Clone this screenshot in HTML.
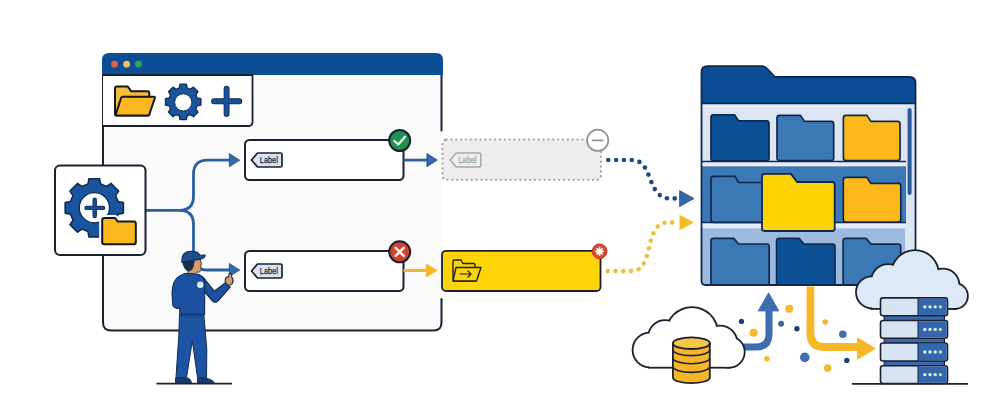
<!DOCTYPE html>
<html><head><meta charset="utf-8"><style>
html,body{margin:0;padding:0;background:#ffffff;}
body{width:986px;height:407px;overflow:hidden;font-family:"Liberation Sans",sans-serif;}
svg{display:block;}
</style></head><body>
<svg width="986" height="407" viewBox="0 0 986 407">
<rect x="103" y="54" width="338.5" height="276.5" rx="8" fill="#fafafa"/>
<path d="M441.5,75 V130.5" fill="none" stroke="#1b2030" stroke-width="2" stroke-linecap="round"/>
<path d="M441.5,298.2 V322.5 Q441.5,330.5 433.5,330.5 L111,330.5 Q103,330.5 103,322.5 L103,75" fill="none" stroke="#1b2030" stroke-width="2"/>
<path d="M102,75 L102,60 Q102,53 109,53 L436,53 Q443,53 443,60 L443,75 Z" fill="#0b4e96"/>
<circle cx="114.5" cy="64.2" r="3.4" fill="#e0604a"/><circle cx="126.6" cy="64.2" r="3.4" fill="#f0c350"/><circle cx="138.4" cy="64.2" r="3.4" fill="#36a35c"/>
<path d="M103,75 L252.5,75 L252.5,122 Q252.5,126 248.5,126 L103,126" fill="#ffffff" stroke="#1b2030" stroke-width="1.8"/>
<path d="M115,113.4 L115,88.4 Q115,86.4 117,86.4 L127.7,86.4 L131.1,91.30000000000001 L147.3,91.30000000000001 Q149.3,91.30000000000001 149.3,93.30000000000001 L149.3,113.4 Q149.3,115.4 147.3,115.4 L117,115.4 Q115,115.4 115,113.4Z" fill="#f3bd3a" stroke="#15171f" stroke-width="2" stroke-linejoin="round"/>
<path d="M122.5,96.7 L153.8,96.7 Q155.3,96.7 154.8,98.2 L149.2,114.8 Q148.9,115.5 148,115.5 L115.4,115.5 L121.2,97.6 Q121.5,96.7 122.5,96.7 Z" fill="#fab81e" stroke="#15171f" stroke-width="2" stroke-linejoin="round"/>
<path d="M179.26,87.94L179.97,84.19L186.43,84.19L187.14,87.94L190.29,89.25L193.43,87.09L198.01,91.67L195.85,94.81L197.16,97.96L200.91,98.67L200.91,105.13L197.16,105.84L195.85,108.99L198.01,112.13L193.43,116.71L190.29,114.55L187.14,115.86L186.43,119.61L179.97,119.61L179.26,115.86L176.11,114.55L172.97,116.71L168.39,112.13L170.55,108.99L169.24,105.84L165.49,105.13L165.49,98.67L169.24,97.96L170.55,94.81L168.39,91.67L172.97,87.09L176.11,89.25Z" fill="#1a549c" stroke="#0f2b57" stroke-width="1.3" stroke-linejoin="round"/>
<circle cx="183.25" cy="102.4" r="8.6" fill="#ffffff" stroke="#12315e" stroke-width="1"/>
<path d="M214,101.3 H239.3 M226.6,88.7 V113.9" stroke="#0f2b57" stroke-width="5.9" stroke-linecap="round"/>
<path d="M214,101.3 H239.3 M226.6,88.7 V113.9" stroke="#1a529a" stroke-width="4.3" stroke-linecap="round"/>
<path d="M146,210.3 H179.5 Q193.5,210.3 193.5,196.3 V174.3 Q193.5,160.2 207.5,160.2 H230" fill="none" stroke="#2c5f9e" stroke-width="2.8"/>
<path d="M179.5,210.3 Q193.5,210.3 193.5,224.3 V256 Q193.5,270 207.5,270 H230" fill="none" stroke="#2c5f9e" stroke-width="2.8"/>
<path d="M229.3,153.6 L239.8,160.2 L229.3,166.8 Z" fill="#3468ad" stroke="#21508c" stroke-width="0.8" stroke-linejoin="round"/>
<path d="M229.3,263.4 L239.8,270 L229.3,276.6 Z" fill="#3468ad" stroke="#21508c" stroke-width="0.8" stroke-linejoin="round"/>
<rect x="55" y="165.5" width="90.5" height="89.5" rx="5" fill="#ffffff" stroke="#1b2030" stroke-width="2"/>
<path d="M88.00,184.02L88.98,178.68L99.62,178.68L100.60,184.02L106.66,186.53L111.13,183.45L118.65,190.97L115.57,195.44L118.08,201.50L123.42,202.48L123.42,213.12L118.08,214.10L115.57,220.16L118.65,224.63L111.13,232.15L106.66,229.07L100.60,231.58L99.62,236.92L88.98,236.92L88.00,231.58L81.94,229.07L77.47,232.15L69.95,224.63L73.03,220.16L70.52,214.10L65.18,213.12L65.18,202.48L70.52,201.50L73.03,195.44L69.95,190.97L77.47,183.45L81.94,186.53Z" fill="#1a549c" stroke="#0f2b57" stroke-width="1.6" stroke-linejoin="round"/>
<circle cx="94.4" cy="207.7" r="15.1" fill="#ffffff" stroke="#0f2b57" stroke-width="1.3"/>
<path d="M86.5,207.9 H103 M94.7,199.8 V216" stroke="#0f2b57" stroke-width="4.4" stroke-linecap="round"/>
<path d="M86.5,207.9 H103 M94.7,199.8 V216" stroke="#174a8e" stroke-width="3" stroke-linecap="round"/>
<path d="M102.2,242.2 L102.2,220 Q102.2,218 104.2,218 L115.10000000000001,218 L117.80000000000001,221.6 L133.8,221.6 Q135.8,221.6 135.8,223.6 L135.8,242.2 Q135.8,244.2 133.8,244.2 L104.2,244.2 Q102.2,244.2 102.2,242.2Z" fill="#fab81e" stroke="#ffffff" stroke-width="6" stroke-linejoin="round"/>
<path d="M102.2,242.2 L102.2,220 Q102.2,218 104.2,218 L115.10000000000001,218 L117.80000000000001,221.6 L133.8,221.6 Q135.8,221.6 135.8,223.6 L135.8,242.2 Q135.8,244.2 133.8,244.2 L104.2,244.2 Q102.2,244.2 102.2,242.2Z" fill="#fab81e" stroke="#15171f" stroke-width="2" stroke-linejoin="round"/>
<rect x="245" y="140" width="158.5" height="40" rx="4.5" fill="#ffffff" stroke="#1b2030" stroke-width="2"/>
<path d="M251.5,160.0 L257.5,153 L280.5,153 Q282.0,153 282.0,154.5 L282.0,165.5 Q282.0,167 280.5,167 L257.5,167 Z" fill="#d5e3f5" stroke="#1b2030" stroke-width="1.7" stroke-linejoin="round"/><text x="259.8" y="162.9" font-family="Liberation Sans, sans-serif" font-size="8.3" textLength="18" lengthAdjust="spacingAndGlyphs" fill="#1b2a45" stroke="#1b2a45" stroke-width="0.25">Label</text>
<rect x="245" y="251" width="158.5" height="40" rx="4.5" fill="#ffffff" stroke="#1b2030" stroke-width="2"/>
<path d="M251.5,271.0 L257.5,264 L280.5,264 Q282.0,264 282.0,265.5 L282.0,276.5 Q282.0,278 280.5,278 L257.5,278 Z" fill="#d5e3f5" stroke="#1b2030" stroke-width="1.7" stroke-linejoin="round"/><text x="259.8" y="273.9" font-family="Liberation Sans, sans-serif" font-size="8.3" textLength="18" lengthAdjust="spacingAndGlyphs" fill="#1b2a45" stroke="#1b2a45" stroke-width="0.25">Label</text>
<circle cx="399.7" cy="140.5" r="10.5" fill="#1f9150" stroke="#1b2030" stroke-width="2"/>
<path d="M394.5,141 L398.2,144.5 L405,136.8" fill="none" stroke="#e2f8ea" stroke-width="2.4" stroke-linecap="round" stroke-linejoin="round"/>
<circle cx="399.7" cy="251.8" r="10.5" fill="#cc4430" stroke="#1b2030" stroke-width="2"/>
<path d="M395.7,247.8 L403.7,255.8 M403.7,247.8 L395.7,255.8" fill="none" stroke="#fdeee6" stroke-width="2.6" stroke-linecap="round"/>
<path d="M403.5,160.1 H428" stroke="#2c5f9e" stroke-width="2.8"/>
<path d="M426.9,153.5 L437.3,160.1 L426.9,166.7 Z" fill="#3468ad" stroke="#21508c" stroke-width="0.8" stroke-linejoin="round"/>
<path d="M403.5,270.5 H428" stroke="#f2b828" stroke-width="3"/>
<path d="M426.2,263.9 L437.3,270.5 L426.2,277.1 Z" fill="#f5b81c" stroke="#f5b81c" stroke-width="0.6" stroke-linejoin="round"/>
<rect x="442.5" y="139.6" width="158.5" height="40.2" rx="4" fill="#ededed" stroke="#a3a3a3" stroke-width="2.2" stroke-dasharray="0.1 4.75" stroke-linecap="round"/>
<path d="M450.2,160.0 L456.2,153 L479.3,153 Q480.8,153 480.8,154.5 L480.8,165.5 Q480.8,167 479.3,167 L456.2,167 Z" fill="#ededed" stroke="#a8a8a8" stroke-width="1.5" stroke-linejoin="round"/><text x="458.5" y="162.9" font-family="Liberation Sans, sans-serif" font-size="8.3" textLength="18" lengthAdjust="spacingAndGlyphs" fill="#a3a3a3" stroke="#a3a3a3" stroke-width="0.25">Label</text>
<circle cx="597.7" cy="140.3" r="10.6" fill="#ffffff" stroke="#939393" stroke-width="1.7"/>
<path d="M592.6,140.3 H602.8" stroke="#939393" stroke-width="1.8" stroke-linecap="round"/>
<rect x="442" y="250.8" width="158.5" height="40.2" rx="4" fill="#fdd405" stroke="#1b2030" stroke-width="1.8"/>
<path d="M453,279.5 L453,261.5 Q453,260 454.5,260 L461,260 L463,263.5 L473.5,263.5 Q475,263.5 475,265.0 L475,279.5 Q475,281 473.5,281 L454.5,281 Q453,281 453,279.5Z" fill="none" stroke="#1b2030" stroke-width="1.4" stroke-linejoin="round"/>
<path d="M456,267.5 L481,267.5 L476.5,281 L453,281 Z" fill="#fdd405" stroke="#1b2030" stroke-width="1.4" stroke-linejoin="round"/>
<path d="M460,274 H471 M468,271 L471,274 L468,277" fill="none" stroke="#1b2030" stroke-width="1.2" stroke-linecap="round" stroke-linejoin="round"/>
<circle cx="599.6" cy="251.3" r="7.4" fill="#d64a33" stroke="#bf3a26" stroke-width="1"/>
<path d="M599.6,247.7 V254.9 M596,251.3 H603.2 M597.1,248.8 L602.1,253.8 M602.1,248.8 L597.1,253.8" stroke="#ffffff" stroke-width="1.7" stroke-linecap="round"/>
<circle cx="608.3" cy="160.0" r="2.3" fill="#1d4a85"/><circle cx="616.1" cy="160.0" r="2.3" fill="#1d4a85"/><circle cx="623.9" cy="160.0" r="2.3" fill="#1d4a85"/><circle cx="631.8" cy="160.0" r="2.3" fill="#1d4a85"/><circle cx="639.4" cy="161.9" r="2.3" fill="#1d4a85"/><circle cx="644.9" cy="167.6" r="2.3" fill="#1d4a85"/><circle cx="648.4" cy="174.6" r="2.3" fill="#1d4a85"/><circle cx="651.4" cy="182.1" r="2.3" fill="#1d4a85"/><circle cx="654.8" cy="189.1" r="2.3" fill="#1d4a85"/><circle cx="659.8" cy="195.1" r="2.3" fill="#1d4a85"/><circle cx="666.9" cy="198.2" r="2.3" fill="#1d4a85"/><circle cx="674.7" cy="198.4" r="2.3" fill="#1d4a85"/>
<path d="M679.6,190.6 L694,198.6 L679.6,206.6 Z" fill="#3468ad" stroke="#21508c" stroke-width="0.8" stroke-linejoin="round"/>
<circle cx="607.7" cy="271.1" r="2.3" fill="#eabf3e"/><circle cx="615.5" cy="271.1" r="2.3" fill="#eabf3e"/><circle cx="623.3" cy="271.1" r="2.3" fill="#eabf3e"/><circle cx="631.0" cy="271.1" r="2.3" fill="#eabf3e"/><circle cx="638.7" cy="269.3" r="2.3" fill="#eabf3e"/><circle cx="643.8" cy="263.5" r="2.3" fill="#eabf3e"/><circle cx="646.8" cy="256.0" r="2.3" fill="#eabf3e"/><circle cx="648.9" cy="248.2" r="2.3" fill="#eabf3e"/><circle cx="650.8" cy="240.6" r="2.3" fill="#eabf3e"/><circle cx="653.4" cy="233.2" r="2.3" fill="#eabf3e"/><circle cx="657.7" cy="226.6" r="2.3" fill="#eabf3e"/><circle cx="664.5" cy="222.8" r="2.3" fill="#eabf3e"/><circle cx="672.3" cy="222.4" r="2.3" fill="#eabf3e"/>
<path d="M679.5,214.7 L694,222.5 L679.5,230.3 Z" fill="#f6bb22"/>
<path d="M701.5,100 L914.8,100 L914.8,281 Q914.8,285 910.8,285 L705.5,285 Q701.5,285 701.5,281 Z" fill="#dce6f2"/>
<rect x="702" y="166.5" width="204" height="56" fill="#3b78b6"/>
<path d="M702,166.5 H906" stroke="#1e4a84" stroke-width="1"/>
<rect x="702" y="228.2" width="203" height="56.8" fill="#9cb9de"/>
<rect x="702" y="162" width="204" height="4.5" fill="#e4edf8"/>
<rect x="702" y="223" width="204" height="5.2" fill="#e3edf8"/>
<rect x="702" y="104.2" width="204" height="3" fill="#e4ecf7"/>
<path d="M702,161.5 H906 M702,222.5 H906" stroke="#10284f" stroke-width="1.4"/>
<path d="M711,158.3 L711,117.3 Q711,114.8 713.5,114.8 L734.5,114.8 L738.5,120.8 L766.5,120.8 Q769,120.8 769,123.3 L769,158.3 Q769,160.8 766.5,160.8 L713.5,160.8 Q711,160.8 711,158.3Z" fill="#0c5096" stroke="#10284f" stroke-width="1.7" stroke-linejoin="round"/>
<path d="M777,158.10000000000002 L777,117.9 Q777,115.4 779.5,115.4 L800.5,115.4 L804.5,121.4 L831.2,121.4 Q833.7,121.4 833.7,123.9 L833.7,158.10000000000002 Q833.7,160.60000000000002 831.2,160.60000000000002 L779.5,160.60000000000002 Q777,160.60000000000002 777,158.10000000000002Z" fill="#3b78b6" stroke="#10284f" stroke-width="1.7" stroke-linejoin="round"/>
<path d="M843.4,158.10000000000002 L843.4,117.9 Q843.4,115.4 845.9,115.4 L866.9,115.4 L870.9,121.4 L897.5,121.4 Q900.0,121.4 900.0,123.9 L900.0,158.10000000000002 Q900.0,160.60000000000002 897.5,160.60000000000002 L845.9,160.60000000000002 Q843.4,160.60000000000002 843.4,158.10000000000002Z" fill="#fdb81b" stroke="#10284f" stroke-width="1.7" stroke-linejoin="round"/>
<path d="M711,219.8 L711,178.8 Q711,176.3 713.5,176.3 L735,176.3 L738.5,182.5 L764.5,182.5 Q767,182.5 767,185.0 L767,219.8 Q767,222.3 764.5,222.3 L713.5,222.3 Q711,222.3 711,219.8Z" fill="#3b78b6" stroke="#10284f" stroke-width="1.7" stroke-linejoin="round"/>
<path d="M843.3,219.5 L843.3,179.9 Q843.3,177.4 845.8,177.4 L866.8,177.4 L870.8,183.4 L898.3,183.4 Q900.8,183.4 900.8,185.9 L900.8,219.5 Q900.8,222.0 898.3,222.0 L845.8,222.0 Q843.3,222.0 843.3,219.5Z" fill="#fdb81b" stroke="#10284f" stroke-width="1.7" stroke-linejoin="round"/>
<path d="M711,282.5 L711,240.9 Q711,238.4 713.5,238.4 L733.8,238.4 L738.4,244.0 L766.7,244.0 Q769.2,244.0 769.2,246.5 L769.2,282.5 Q769.2,285.0 766.7,285.0 L713.5,285.0 Q711,285.0 711,282.5Z" fill="#3b78b6" stroke="#10284f" stroke-width="1.7" stroke-linejoin="round"/>
<path d="M776.6,282.5 L776.6,240.9 Q776.6,238.4 779.1,238.4 L799.1,238.4 L804.1,244.20000000000002 L832.5,244.20000000000002 Q835.0,244.20000000000002 835.0,246.70000000000002 L835.0,282.5 Q835.0,285.0 832.5,285.0 L779.1,285.0 Q776.6,285.0 776.6,282.5Z" fill="#0c5096" stroke="#10284f" stroke-width="1.7" stroke-linejoin="round"/>
<path d="M843.1,282.5 L843.1,240.9 Q843.1,238.4 845.6,238.4 L866.1,238.4 L871.1,244.20000000000002 L898.2,244.20000000000002 Q900.7,244.20000000000002 900.7,246.70000000000002 L900.7,282.5 Q900.7,285.0 898.2,285.0 L845.6,285.0 Q843.1,285.0 843.1,282.5Z" fill="#3b78b6" stroke="#10284f" stroke-width="1.7" stroke-linejoin="round"/>
<path d="M762,228.5 L762,176.4 Q762,173.9 764.5,173.9 L791,173.9 L797,182.0 L832.2,182.0 Q834.7,182.0 834.7,184.5 L834.7,228.5 Q834.7,231.0 832.2,231.0 L764.5,231.0 Q762,231.0 762,228.5Z" fill="#fdd303" stroke="#10284f" stroke-width="1.8" stroke-linejoin="round"/>
<path d="M909.6,110 V193" stroke="#2a5a9a" stroke-width="4" stroke-linecap="round"/>
<path d="M701.5,103.5 L701.5,72 Q701.5,66.2 707.5,66.2 L762,66.2 Q765,66.2 767,68.5 L775,77 L909.5,77 Q915.5,77 915.5,83 L915.5,103.5 Z" fill="#0b4e96"/>
<path d="M701.5,103.5 H915.5" stroke="#10284f" stroke-width="1.4"/>
<path d="M701.5,281 L701.5,72 Q701.5,66.2 707.5,66.2 L762,66.2 Q765,66.2 767,68.5 L775,77 L909.5,77 Q915.5,77 915.5,83 L915.5,281 Q915.5,285 911.5,285 L705.5,285 Q701.5,285 701.5,281 Z" fill="none" stroke="#10284f" stroke-width="1.8" stroke-linejoin="round"/>
<path d="M738,347 H756 Q769,347 769,334 V309" fill="none" stroke="#3b6db0" stroke-width="7"/>
<path d="M758.2,311 L768.6,292.7 L778.9,311 Z" fill="#3b6db0" stroke="#3b6db0" stroke-width="0.8" stroke-linejoin="round"/>
<path d="M810.4,286.5 V333 Q810.4,347 824,347 H859" fill="none" stroke="#f6b82a" stroke-width="7.8"/>
<path d="M857.5,337.8 L875.4,348.5 L857.5,359.3 Z" fill="#f6b82a" stroke="#f6b82a" stroke-width="0.8" stroke-linejoin="round"/>
<circle cx="741.5" cy="321.4" r="2.6" fill="#1c3f73"/>
<circle cx="753.6" cy="332.8" r="4" fill="#f5b82e"/>
<circle cx="789.2" cy="308.7" r="4" fill="#f5b82e"/>
<circle cx="781.1" cy="323.7" r="3" fill="#3d6aa3"/>
<circle cx="796.9" cy="328.7" r="2.7" fill="#1c3f73"/>
<circle cx="766.9" cy="358.7" r="2.8" fill="#f5b82e"/>
<circle cx="804.8" cy="357.4" r="4.8" fill="#3d6fb0"/>
<circle cx="825.3" cy="322" r="2.8" fill="#f5b82e"/>
<circle cx="842.8" cy="334.3" r="3.8" fill="#3d6fb0"/>
<circle cx="846.8" cy="360.4" r="2.7" fill="#1c3f73"/>
<circle cx="827.6" cy="368.1" r="3.8" fill="#f5b82e"/>
<circle cx="650" cy="350" r="16.5" fill="#ffffff" stroke="#1b2030" stroke-width="3.6"/><circle cx="665" cy="337" r="16" fill="#ffffff" stroke="#1b2030" stroke-width="3.6"/><circle cx="692" cy="333" r="25" fill="#ffffff" stroke="#1b2030" stroke-width="3.6"/><circle cx="720" cy="343" r="16.5" fill="#ffffff" stroke="#1b2030" stroke-width="3.6"/><circle cx="729" cy="352" r="14.8" fill="#ffffff" stroke="#1b2030" stroke-width="3.6"/><rect x="650" y="335" width="79" height="31.8" fill="#ffffff" stroke="#1b2030" stroke-width="3.6"/><circle cx="650" cy="350" r="16.5" fill="#ffffff"/><circle cx="665" cy="337" r="16" fill="#ffffff"/><circle cx="692" cy="333" r="25" fill="#ffffff"/><circle cx="720" cy="343" r="16.5" fill="#ffffff"/><circle cx="729" cy="352" r="14.8" fill="#ffffff"/><rect x="650" y="335" width="79" height="31.8" fill="#ffffff"/>
<path d="M672.9,343.2 V377.4 A18.44999999999999,5.8 0 0,0 709.8,377.4 V343.2 Z" fill="#f4b52b" stroke="#1b2030" stroke-width="1.8" stroke-linejoin="round"/><path d="M672.9,349.8 A18.44999999999999,5.8 0 0,0 709.8,349.8" fill="none" stroke="#1b2030" stroke-width="1.6"/><path d="M672.9,358.0 A18.44999999999999,5.8 0 0,0 709.8,358.0" fill="none" stroke="#1b2030" stroke-width="1.6"/><path d="M672.9,366.59999999999997 A18.44999999999999,5.8 0 0,0 709.8,366.59999999999997" fill="none" stroke="#1b2030" stroke-width="1.6"/><ellipse cx="691.3499999999999" cy="343.2" rx="18.44999999999999" ry="5.8" fill="#f7c748" stroke="#1b2030" stroke-width="1.8"/>
<circle cx="872" cy="292.3" r="15.1" fill="#dde9f7" stroke="#1b2030" stroke-width="3.6"/><circle cx="888" cy="281" r="16" fill="#dde9f7" stroke="#1b2030" stroke-width="3.6"/><circle cx="915" cy="274" r="23" fill="#dde9f7" stroke="#1b2030" stroke-width="3.6"/><circle cx="943" cy="285" r="15.5" fill="#dde9f7" stroke="#1b2030" stroke-width="3.6"/><circle cx="955" cy="296" r="12" fill="#dde9f7" stroke="#1b2030" stroke-width="3.6"/><rect x="872" y="280" width="83" height="28" fill="#dde9f7" stroke="#1b2030" stroke-width="3.6"/><circle cx="872" cy="292.3" r="15.1" fill="#dde9f7"/><circle cx="888" cy="281" r="16" fill="#dde9f7"/><circle cx="915" cy="274" r="23" fill="#dde9f7"/><circle cx="943" cy="285" r="15.5" fill="#dde9f7"/><circle cx="955" cy="296" r="12" fill="#dde9f7"/><rect x="872" y="280" width="83" height="28" fill="#dde9f7"/>
<rect x="884.2" y="305" width="60.2" height="76" fill="#3a6aab" stroke="#1b2030" stroke-width="1.2"/>
<rect x="880.5" y="297.9" width="67" height="17.900000000000034" rx="2.5" fill="#d7e3f3" stroke="#1b2030" stroke-width="1.6"/>
<path d="M918,298.7 H945 Q946.7,298.7 946.7,300.4 V313.3 Q946.7,315.0 945,315.0 H918 Z" fill="#3366ab"/>
<path d="M918,297.9 V315.8" stroke="#1b2030" stroke-width="1"/>
<circle cx="924.8" cy="306.85" r="1.7" fill="#d8effd"/>
<circle cx="930" cy="306.85" r="1.7" fill="#d8effd"/>
<circle cx="935.2" cy="306.85" r="1.7" fill="#d8effd"/>
<circle cx="940.4" cy="306.85" r="1.7" fill="#c2e3a0"/>
<rect x="880.5" y="320.5" width="67" height="17.80000000000001" rx="2.5" fill="#d7e3f3" stroke="#1b2030" stroke-width="1.6"/>
<path d="M918,321.3 H945 Q946.7,321.3 946.7,323.0 V335.8 Q946.7,337.5 945,337.5 H918 Z" fill="#3366ab"/>
<path d="M918,320.5 V338.3" stroke="#1b2030" stroke-width="1"/>
<circle cx="924.8" cy="329.4" r="1.7" fill="#d8effd"/>
<circle cx="930" cy="329.4" r="1.7" fill="#d8effd"/>
<circle cx="935.2" cy="329.4" r="1.7" fill="#d8effd"/>
<circle cx="940.4" cy="329.4" r="1.7" fill="#c2e3a0"/>
<rect x="880.5" y="343" width="67" height="18" rx="2.5" fill="#d7e3f3" stroke="#1b2030" stroke-width="1.6"/>
<path d="M918,343.8 H945 Q946.7,343.8 946.7,345.5 V358.5 Q946.7,360.2 945,360.2 H918 Z" fill="#3366ab"/>
<path d="M918,343 V361" stroke="#1b2030" stroke-width="1"/>
<circle cx="924.8" cy="352.0" r="1.7" fill="#d8effd"/>
<circle cx="930" cy="352.0" r="1.7" fill="#d8effd"/>
<circle cx="935.2" cy="352.0" r="1.7" fill="#d8effd"/>
<circle cx="940.4" cy="352.0" r="1.7" fill="#c2e3a0"/>
<rect x="880.5" y="365.8" width="67" height="17.69999999999999" rx="2.5" fill="#d7e3f3" stroke="#1b2030" stroke-width="1.6"/>
<path d="M918,366.6 H945 Q946.7,366.6 946.7,368.3 V381.0 Q946.7,382.7 945,382.7 H918 Z" fill="#3366ab"/>
<path d="M918,365.8 V383.5" stroke="#1b2030" stroke-width="1"/>
<circle cx="924.8" cy="374.65" r="1.7" fill="#d8effd"/>
<circle cx="930" cy="374.65" r="1.7" fill="#d8effd"/>
<circle cx="935.2" cy="374.65" r="1.7" fill="#d8effd"/>
<circle cx="940.4" cy="374.65" r="1.7" fill="#c2e3a0"/>
<path d="M852,383.8 H968" stroke="#1b2030" stroke-width="1.8"/>
<path d="M179.5,314 L203.8,314 L206.8,350 L206.5,377.5 L197.5,377.5 L192.3,341 L186.5,377.5 L176,377.5 L178.8,335 Z" fill="#1c53a2" stroke="#142c55" stroke-width="1"/>
<path d="M175,377.5 L188,377.5 Q192,379.5 192,383.5 L175,383.5 Z" fill="#1a3868"/>
<path d="M197,377.5 L206,377.5 Q214,379.5 215,383.5 L197,383.5 Z" fill="#1a3868"/>
<path d="M156.5,383.6 H232" stroke="#1b2030" stroke-width="1.8"/>
<path d="M198.5,274.8 Q203,276.3 206,280.8 L214.2,291.2 L225.5,282.8 L230.2,287.2 L217.8,301.2 Q215,303.3 212.6,301 L204.8,292 Z" fill="#1b51a0" stroke="#142c55" stroke-width="1.2" stroke-linejoin="round"/>
<path d="M225.2,281.5 Q224.8,277.2 228.5,276.6 L229.3,273.6 Q231,272.9 231.6,274.6 L231.8,277.3 Q234,279.8 232.6,283.3 Q229.8,286.3 226.6,284.6 Z" fill="#d79a68" stroke="#142c55" stroke-width="1.1"/>
<path d="M193.5,259.5 L200,259.2 L201.6,263.8 L200.7,265.8 L201.3,270.2 Q199.8,272.6 196.5,272.3 L194,275 L187,275 L189,270 L193.5,266 Z" fill="#d79a68" stroke="#142c55" stroke-width="0.9" stroke-linejoin="round"/>
<path d="M182.3,261 L194.6,261 L194.2,263.5 Q192.8,264.5 193.6,267 Q192,271 188,271.5 Q183,269 182.3,261 Z" fill="#1b2c4c"/>
<path d="M182,262.6 Q180.8,251.3 191.2,251.3 Q198.6,251.3 199.8,255.2 L205.1,255.1 Q205.6,258.4 199.5,259.4 Q190,260.4 182,262.6 Z" fill="#1d4e93" stroke="#142c55" stroke-width="1.1" stroke-linejoin="round"/>
<path d="M185,273.6 Q191,273 198.5,274.6 Q203.5,276.5 204.8,282 L204.6,314.5 L180,314.5 L179.6,307.8 Q175.6,310 172.8,305.5 L172,293 Q172.6,279.5 180,275.8 Z" fill="#1b51a0" stroke="#142c55" stroke-width="1.1" stroke-linejoin="round"/>
<path d="M180,314.6 H203.5" stroke="#173f7c" stroke-width="3"/>
<circle cx="200.3" cy="284.7" r="3.2" fill="#dfeefb"/>
</svg>
</body></html>
